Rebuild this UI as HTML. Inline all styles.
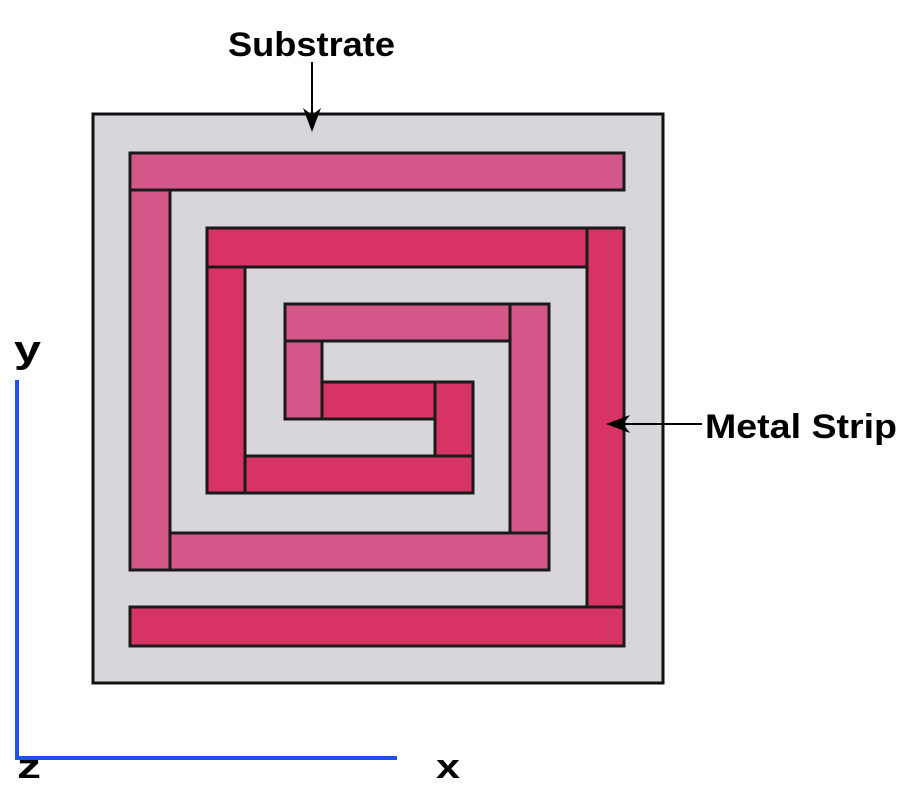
<!DOCTYPE html>
<html><head><style>body{margin:0;background:#fff}svg{display:block}</style></head><body>
<svg width="900" height="800" xmlns="http://www.w3.org/2000/svg">
<rect x="93" y="114" width="570" height="569" fill="#d9d6db" stroke="#111" stroke-width="3"/>
<g stroke="#1a1a1a" stroke-width="3">
<g fill="#d35889">
<rect x="130" y="153" width="494" height="37"/>
<rect x="130" y="190" width="40" height="380"/>
<rect x="170" y="533" width="379" height="37"/>
<rect x="510" y="304" width="39" height="229"/>
<rect x="285" y="304" width="225" height="37"/>
<rect x="285" y="341" width="37" height="78"/>
</g>
<g fill="#d73465">
<rect x="207" y="228" width="380" height="39"/>
<rect x="587" y="228" width="37" height="379"/>
<rect x="130" y="607" width="494" height="39"/>
<rect x="207" y="267" width="38" height="226"/>
<rect x="245" y="456" width="228" height="37"/>
<rect x="435" y="382" width="38" height="74"/>
<rect x="322" y="382" width="113" height="37"/>
</g>
</g>
<line x1="312" y1="62" x2="312" y2="118" stroke="#000" stroke-width="2"/>
<path d="M303,108 L312,132 L321,108 L312,115 Z" fill="#000"/>
<line x1="702" y1="424" x2="615" y2="424" stroke="#000" stroke-width="2"/>
<path d="M630,415 L606,424 L630,433 L623,424 Z" fill="#000"/>
<text x="228" y="56" font-family="Liberation Sans, sans-serif" font-weight="bold" font-size="34" textLength="167" lengthAdjust="spacingAndGlyphs">Substrate</text>
<text x="705" y="438" font-family="Liberation Sans, sans-serif" font-weight="bold" font-size="34" textLength="192" lengthAdjust="spacingAndGlyphs">Metal Strip</text>
<line x1="17" y1="380" x2="17" y2="760" stroke="#1f4ff5" stroke-width="4"/>
<line x1="15" y1="758" x2="397" y2="758" stroke="#1f4ff5" stroke-width="4"/>
<text x="14" y="362" font-family="Liberation Sans, sans-serif" font-weight="bold" font-size="38" textLength="27" lengthAdjust="spacingAndGlyphs">y</text>
<text x="17" y="778" font-family="Liberation Sans, sans-serif" font-weight="bold" font-size="34" textLength="24" lengthAdjust="spacingAndGlyphs">z</text>
<text x="436" y="778" font-family="Liberation Sans, sans-serif" font-weight="bold" font-size="34" textLength="24" lengthAdjust="spacingAndGlyphs">x</text>
</svg>
</body></html>
